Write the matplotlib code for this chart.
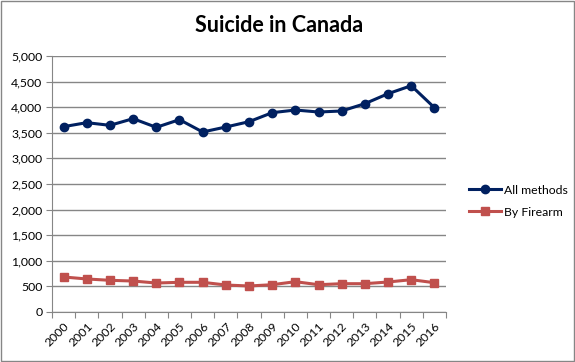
import matplotlib
matplotlib.use("Agg")
import matplotlib.pyplot as plt
from matplotlib.patches import Rectangle
from matplotlib.ticker import FuncFormatter, FixedLocator

plt.rcParams['font.family'] = ['Lato', 'DejaVu Sans']

years = list(range(2000, 2017))
all_methods = [3620, 3698, 3646, 3776, 3607, 3757, 3516, 3613, 3717,
               3893, 3945, 3906, 3926, 4069, 4264, 4420, 3991]
by_firearm = [684, 645, 619, 605, 566, 580, 580, 527, 508,
              533, 592, 533, 553, 553, 586, 631, 572]

fig = plt.figure(figsize=(5.75, 3.62), dpi=100)
ax = fig.add_axes([52 / 575, 1 - 312 / 362, (446 - 52) / 575, (312 - 56) / 362])

ax.plot(years, all_methods, color='#002060', lw=2.2, marker='o', ms=6,
        label='All methods', zorder=3)
ax.plot(years, by_firearm, color='#C0504D', lw=2.2, marker='s', ms=6,
        label='By Firearm', zorder=3)

ax.set_xlim(years[0] - 0.5, years[-1] + 0.5)
ax.set_ylim(0, 5000)
ax.set_yticks(range(0, 5001, 500))
ax.yaxis.set_major_formatter(FuncFormatter(lambda v, p: f"{int(v):,}"))
ax.grid(axis='y', color='#868686', lw=1)
ax.set_axisbelow(True)

# category axis: ticks between categories, labels at centres
ax.xaxis.set_major_locator(FixedLocator([y - 0.5 for y in years] + [years[-1] + 0.5]))
ax.xaxis.set_major_formatter(FuncFormatter(lambda v, p: ''))
ax.set_xticks(years, minor=True)
ax.set_xticklabels([str(y) for y in years], minor=True, rotation=45,
                   ha='right', va='top', rotation_mode='anchor', fontsize=8.8)
ax.tick_params(axis='x', which='minor', length=0, pad=6)
ax.tick_params(axis='x', which='major', length=4, color='#868686')
ax.tick_params(axis='y', length=4, color='#868686', labelsize=8.8, pad=3)

for s in ['top', 'right']:
    ax.spines[s].set_visible(False)
for s in ['left', 'bottom']:
    ax.spines[s].set_color('#868686')

fig.text(0.4857, 1 - 25 / 362, 'Suicide in Canada', ha='center', va='center',
         fontsize=15.5, fontweight='bold')

fig.legend(loc='center left', bbox_to_anchor=(458 / 575, 1 - 201 / 362),
           frameon=False, fontsize=8.8, handlelength=2.6, labelspacing=0.9,
           handletextpad=0.3)

fig.patches.append(Rectangle((0.001, 0.002), 0.997, 0.995, transform=fig.transFigure,
                             fill=False, edgecolor='#868686', lw=1))

fig.savefig('out.png', dpi=100)
